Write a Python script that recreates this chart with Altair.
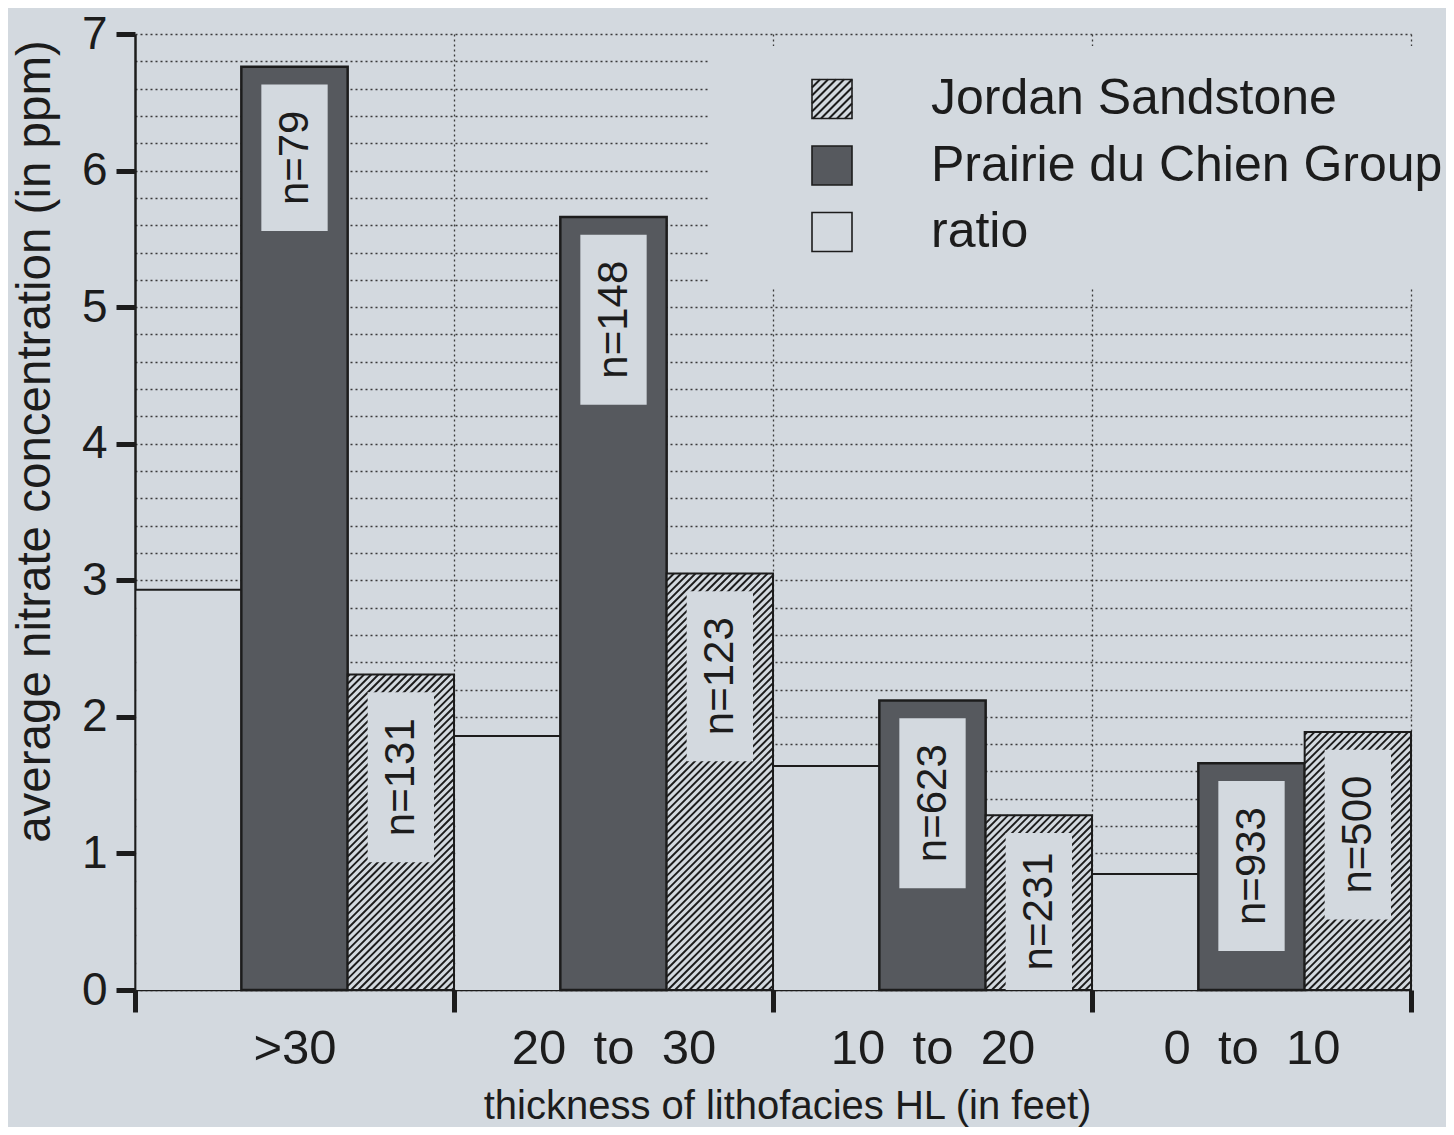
import json
import math
import altair as alt
import pandas as pd

# ---------------- data ----------------
groups = [">30", "20 to 30", "10 to 20", "0 to 10"]
prairie = [6.76, 5.66, 2.12, 1.66]      # Prairie du Chien Group (ppm)
jordan = [2.31, 3.05, 1.28, 1.89]       # Jordan Sandstone (ppm)
ratio = [2.93, 1.86, 1.64, 0.85]        # ratio Prairie / Jordan
n_prairie = [79, 148, 623, 933]
n_jordan = [131, 123, 231, 500]
legend_names = ["Jordan Sandstone", "Prairie du Chien Group", "ratio"]

# ---------------- styling / geometry ----------------
BG = "#d3d9df"
PDC = "#56595e"
INK = "#1c1c1c"
GRID = "#3a3a3a"
FONT = "Liberation Sans"

TOP = 26
W, H = 1276, 956
YMAX = 7
PX = W / len(groups)
PY = H / YMAX

slots = {"ratio": 0, "prairie": 1, "jordan": 2}
rows = []
for i, g in enumerate(groups):
    for key, vals, ns in (("ratio", ratio, None), ("prairie", prairie, n_prairie), ("jordan", jordan, n_jordan)):
        s = slots[key]
        rows.append({"group": g, "series": key, "x0": i + s / 3, "x1": i + (s + 1) / 3,
                     "value": vals[i], "n": (ns[i] if ns else 0)})
bars = pd.DataFrame(rows)

# label boxes (derived from bars)
CW = {"n": 0.556, "=": 0.584}
FS_N = 42
lab = []
for _, r in bars[bars.series != "ratio"].iterrows():
    txt = f"n={int(r.n)}"
    length = sum(CW.get(ch, 0.556) for ch in txt) * FS_N
    top = r.value - 0.13
    bottom = max(0.0, top - (length + 52) / PY)
    ix = 20 / PX
    lab.append({"label": txt, "bx0": r.x0 + ix, "bx1": r.x1 - ix, "top": top, "bottom": bottom,
                "cx": (r.x0 + r.x1) / 2, "cy": (top + bottom) / 2})
labels = pd.DataFrame(lab)

# hatch lines for Jordan bars (derived from bars)
HS = 7.2
hatch = []
for _, r in bars[bars.series == "jordan"].iterrows():
    X0, X1, Hh = r.x0 * PX, r.x1 * PX, r.value * PY
    for k in range(math.floor((X0 - Hh) / HS), math.ceil(X1 / HS) + 1):
        c = k * HS
        lo, hi = max(0.0, X0 - c), min(Hh, X1 - c)
        if hi - lo > 0.5:
            hatch.append({"hx0": (c + lo) / PX, "hy0": lo / PY, "hx1": (c + hi) / PX, "hy1": hi / PY})

# legend geometry (pixels relative to plot origin)
LX0, LX1 = 677, 717
LY, LDY, SQ = 65, 66.5, 39
TX = 796
# hatch for the legend swatch, expressed in the chart's data units
Y0p, Y1p = LY - SQ / 2, LY + SQ / 2
for k in range(0, 40):
    c = LX0 + Y0p + k * 8.0
    lo, hi = max(Y0p, c - LX1), min(Y1p, c - LX0)
    if hi - lo > 0.5:
        hatch.append({"hx0": (c - lo) / PX, "hy0": YMAX - lo / PY, "hx1": (c - hi) / PX, "hy1": YMAX - hi / PY})
hatch = pd.DataFrame(hatch)

xs = alt.Scale(domain=[0, len(groups)], nice=False, zero=False)
ys = alt.Scale(domain=[0, YMAX], nice=False)

grid_vals = [round(k * 0.2, 1) for k in range(0, YMAX * 5 + 1)]
is_int = "abs(datum.value - round(datum.value)) < 0.01"

yaxis = alt.Axis(
    values=grid_vals, tickCount=len(grid_vals) + 5,
    grid=True, gridDash=[2, 3], gridColor=GRID, gridWidth=1.3,
    tickOpacity={"condition": {"test": is_int, "value": 1}, "value": 0},
    labelExpr=f"{is_int} ? format(datum.value, '.0f') : ''",
    tickSize=19, tickWidth=5, tickColor=INK, domainColor=INK, domainWidth=2.5,
    labelFontSize=46, labelColor=INK, labelPadding=9, labelOverlap=False, labelFlush=False, labelBound=False,
    title="average nitrate concentration (in ppm)", titleFontSize=47.5, titleFontWeight="normal",
    titleColor=INK, titleX=-76, titleY=407, titleAngle=270, titleBaseline="bottom", titleAlign="center",
    titleLimit=0,
)
lab_arr = json.dumps([g.replace(" ", "\u00a0 ") for g in groups], ensure_ascii=False)
xaxis = alt.Axis(
    values=list(range(len(groups) + 1)), tickCount=len(groups) + 3,
    grid=True, gridDash=[2, 3], gridColor=GRID, gridWidth=1.3,
    gridOpacity={"condition": {"test": "datum.value == 0", "value": 0}, "value": 1},
    labelExpr=f"{lab_arr}[datum.value] || ''", labelOffset=PX / 2, labelLimit=0,
    tickSize=22, tickWidth=5, tickColor=INK, domainColor=INK, domainWidth=1.5,
    labelFontSize=49, labelColor=INK, labelPadding=12, labelOverlap=False, labelFlush=False, labelBound=False,
    title="thickness of lithofacies HL (in feet)", titleFontSize=40, titleFontWeight="normal",
    titleColor=INK, titleX=652, titleY=96, titleBaseline="top", titleAlign="center", titleLimit=0,
)

base = alt.Chart(bars)

ratio_fill = base.transform_filter("datum.series == 'ratio'").mark_rect(fill=BG, xOffset=1.5).encode(
    x=alt.X("x0:Q", scale=xs, axis=xaxis), x2="x1:Q",
    y=alt.Y("value:Q", scale=ys, axis=yaxis), y2=alt.datum(0))
ratio_top = base.transform_filter("datum.series == 'ratio'").mark_rule(color=INK, strokeWidth=2).encode(
    x=alt.X("x0:Q"), x2="x1:Q", y=alt.Y("value:Q"))
cover = alt.Chart(pd.DataFrame({"a": [0]})).mark_rect(fill=BG).encode(
    x=alt.value(575), x2=alt.value(1300), y=alt.value(12), y2=alt.value(253))
pdc_bars = base.transform_filter("datum.series == 'prairie'").mark_rect(fill=PDC, stroke=INK, strokeWidth=2.5).encode(
    x=alt.X("x0:Q"), x2="x1:Q", y=alt.Y("value:Q"), y2=alt.datum(0))
jor_fill = base.transform_filter("datum.series == 'jordan'").mark_rect(fill=BG).encode(
    x=alt.X("x0:Q"), x2="x1:Q", y=alt.Y("value:Q"), y2=alt.datum(0))
jor_hatch = alt.Chart(hatch).mark_rule(color=INK, strokeWidth=1.9).encode(
    x=alt.X("hx0:Q"), x2="hx1:Q", y=alt.Y("hy0:Q"), y2="hy1:Q")
jor_line = base.transform_filter("datum.series == 'jordan'").mark_rect(fillOpacity=0, stroke=INK, strokeWidth=2).encode(
    x=alt.X("x0:Q"), x2="x1:Q", y=alt.Y("value:Q"), y2=alt.datum(0))
boxes = alt.Chart(labels).mark_rect(fill=BG).encode(
    x=alt.X("bx0:Q"), x2="bx1:Q", y=alt.Y("top:Q"), y2="bottom:Q")
texts = alt.Chart(labels).mark_text(angle=270, fontSize=FS_N, color=INK, align="center", baseline="middle").encode(
    x=alt.X("cx:Q"), y=alt.Y("cy:Q"), text="label:N")

# ---------------- legend ----------------
leg = pd.DataFrame({"name": legend_names})
leg_fills = [BG, PDC, BG]
leg_layers = []
for j, name in enumerate(legend_names):
    one = alt.Chart(leg).transform_filter(alt.datum.name == name)
    cy = LY + j * LDY
    leg_layers.append(one.mark_rect(fill=leg_fills[j], fillOpacity=(0 if j == 0 else 1), stroke=INK, strokeWidth=1.6).encode(
        x=alt.value(LX0), x2=alt.value(LX1), y=alt.value(cy - SQ / 2), y2=alt.value(cy + SQ / 2)))
    leg_layers.append(one.mark_text(align="left", baseline="middle", fontSize=50, color=INK).encode(
        x=alt.value(TX), y=alt.value(cy), text="name:N"))

chart = alt.layer(ratio_fill, ratio_top, cover, pdc_bars, jor_fill, *leg_layers, jor_hatch, jor_line, boxes, texts).properties(
    width=W, height=H, background=BG,
    autosize=alt.AutoSizeParams(type="none"),
    padding={"left": 127, "top": TOP, "right": 35, "bottom": 137},
).configure_view(stroke=None).configure_axis(labelFont=FONT, titleFont=FONT).configure_text(font=FONT)

chart.save("out.html", embed_options={"renderer": "svg", "actions": False})
